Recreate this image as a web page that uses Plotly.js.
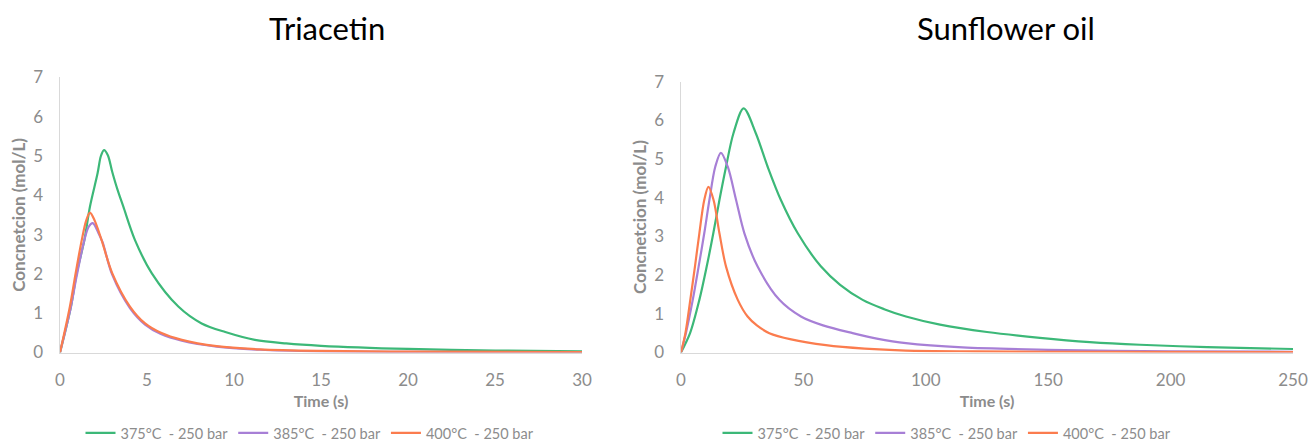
<!DOCTYPE html>
<html><head><meta charset="utf-8">
<script src="https://cdn.plot.ly/plotly-3.0.1.min.js"></script>
<style>html,body{margin:0;padding:0;background:#fff}#c{width:1308px;height:442px}</style>
</head><body><div id="c"></div>
<script>
// Triacetin (left)
const tri375Time = [0,0.63,0.96,1.4,1.72,2.16,2.35,2.53,2.75,3.0,3.3,3.64,4.31,5.27,6.8,8.14,9.5,11.2,13,15,20,25,30];
const tri375 = [0,1.17,2.02,2.86,3.71,4.56,5.0,5.15,5.02,4.6,4.15,3.71,2.86,2.02,1.17,0.74,0.52,0.32,0.23,0.17,0.09,0.05,0.03];
const tri385Time = [0,0.6,0.96,1.4,1.65,1.88,2.2,2.45,3.0,4.02,4.89,5.8,7.0,9.0,11.5,15,20,30];
const tri385 = [0,1.1,1.95,2.86,3.2,3.29,3.05,2.8,1.98,1.13,0.71,0.47,0.3,0.15,0.07,0.03,0.015,0.01];
const tri400Time = [0,0.57,0.9,1.25,1.5,1.72,2.0,2.39,3.0,4.02,4.89,5.8,7.0,9.0,11.5,15,20,30];
const tri400 = [0,1.17,2.02,2.86,3.35,3.56,3.35,2.86,2.02,1.17,0.74,0.5,0.32,0.16,0.08,0.04,0.02,0.01];

// Sunflower oil (right)
const sun375Time = [0,3.7,7.5,10.5,13.2,15.7,18.4,21.4,25.6,30.6,35.4,40.8,47.7,57.2,65,74.2,83,91.9,105.8,125,146.6,167,187.5,215,250];
const sun375 = [0,0.5,1.36,2.22,3.08,3.94,4.8,5.66,6.31,5.66,4.8,3.94,3.08,2.22,1.75,1.36,1.12,0.93,0.72,0.53,0.38,0.27,0.2,0.14,0.09];
const sun385Time = [0,2.0,4.8,7.2,9.5,11.6,14.0,16.3,19.1,22.5,25.9,31.3,40.2,49.0,58,70.1,80,91.9,115,150,200,250];
const sun385 = [0,0.5,1.36,2.22,3.08,3.94,4.8,5.16,4.8,3.94,3.08,2.22,1.36,0.93,0.7,0.5,0.36,0.24,0.13,0.07,0.03,0.02];
const sun400Time = [0,1.8,3.8,5.7,7.5,9.5,11.2,13.3,15.7,18.4,23.2,27.2,31,36.1,45,59.2,75,91.9,120,150,250];
const sun400 = [0,0.5,1.36,2.22,3.08,3.94,4.28,3.94,3.08,2.22,1.36,0.93,0.7,0.5,0.34,0.19,0.1,0.05,0.03,0.02,0.01];

const seriesNames = ['375°C  - 250 bar','385°C  - 250 bar','400°C  - 250 bar'];
const colors = ['#3cb878','#a77fd6','#fb7c4e'];
const FONT = 'Lato, "Open Sans", sans-serif';
const GREY = '#8c8c8c';

function tr(x,y,i,xa,ya,leg){
  return {x:x,y:y,type:'scatter',mode:'lines',name:seriesNames[i],
    line:{color:colors[i],width:2.2,shape:'spline',smoothing:0.9},
    xaxis:xa,yaxis:ya,legend:leg,hoverinfo:'skip'};
}
const data = [
  tr(tri375Time,tri375,0,'x','y','legend'),
  tr(tri385Time,tri385,1,'x','y','legend'),
  tr(tri400Time,tri400,2,'x','y','legend'),
  tr(sun375Time,sun375,0,'x2','y2','legend2'),
  tr(sun385Time,sun385,1,'x2','y2','legend2'),
  tr(sun400Time,sun400,2,'x2','y2','legend2')
];
function xax(dom,range,dtick,anchor){
  return {domain:dom,range:range,dtick:dtick,tick0:0,anchor:anchor,showgrid:false,zeroline:false,
    showline:true,linecolor:'#d9d9d9',linewidth:1.5,ticks:'',ticklabelstandoff:12,
    tickfont:{family:FONT,size:17,color:GREY},automargin:false,
    title:{text:'<b>Time (s)</b>',font:{family:FONT,size:16,color:GREY},standoff:6}};
}
function yax(dom,anchor){
  return {domain:dom,range:[0,7],dtick:1,tick0:0,anchor:anchor,showgrid:false,zeroline:false,
    showline:true,linecolor:'#d9d9d9',linewidth:1.5,ticks:'',ticklabelstandoff:12,
    tickfont:{family:FONT,size:17,color:GREY},automargin:false,
    title:{text:'<b>Concnetcion (mol/L)</b>',font:{family:FONT,size:17,color:GREY},standoff:3}};
}
const layout = {
  width:1308,height:442,margin:{l:0,r:0,t:0,b:0,autoexpand:false},
  paper_bgcolor:'#fff',plot_bgcolor:'#fff',
  font:{family:FONT,color:GREY},
  xaxis:xax([60/1308,582/1308],[0,30],5,'y'),
  yaxis:yax([1-352.5/442,1-77.4/442],'x'),
  xaxis2:xax([681/1308,1293/1308],[0,250],50,'y2'),
  yaxis2:yax([1-352.5/442,1-81.6/442],'x2'),
  legend:{orientation:'h',x:310/1308,xanchor:'center',y:1-433/442,yanchor:'middle',
    font:{family:FONT,size:14.5,color:GREY},itemwidth:30,bgcolor:'rgba(0,0,0,0)'},
  legend2:{orientation:'h',x:947/1308,xanchor:'center',y:1-433/442,yanchor:'middle',
    font:{family:FONT,size:14.5,color:GREY},itemwidth:30,bgcolor:'rgba(0,0,0,0)'},
  annotations:[
    {text:'Triacetin',xref:'paper',yref:'paper',x:327/1308,y:1-28/442,xanchor:'center',yanchor:'middle',showarrow:false,
     font:{family:FONT,size:31,color:'#000'}},
    {text:'Sunflower oil',xref:'paper',yref:'paper',x:1006/1308,y:1-28/442,xanchor:'center',yanchor:'middle',showarrow:false,
     font:{family:FONT,size:31,color:'#000'}}
  ],
  showlegend:true
};
Plotly.newPlot('c',data,layout,{staticPlot:true});
</script></body></html>
